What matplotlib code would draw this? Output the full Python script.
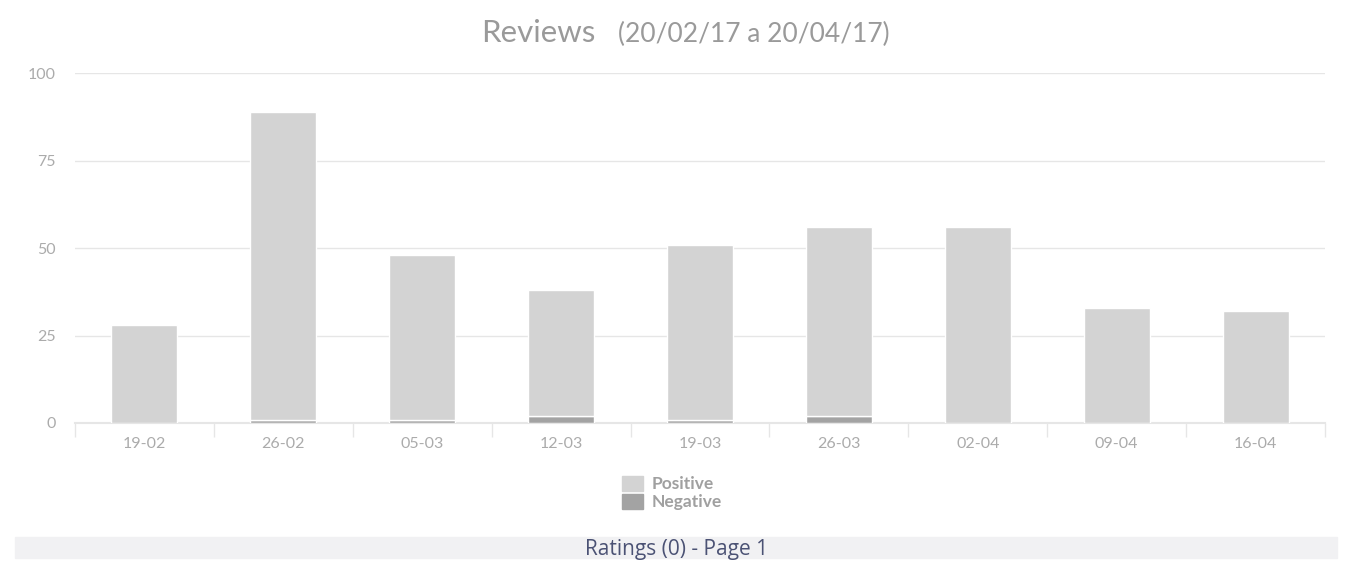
import numpy as np
import matplotlib.pyplot as plt
from matplotlib.patches import Rectangle

weeks = ['19-02', '26-02', '05-03', '12-03', '19-03', '26-03', '02-04', '09-04', '16-04']
negative = [0, 1, 1, 2, 1, 2, 0, 0, 0]
positive = [28, 88, 47, 36, 50, 54, 56, 33, 32]
y_ticks = [0, 25, 50, 75, 100]

pos_color = '#d3d3d3'
neg_color = '#a3a3a3'
grid_color = '#e6e6e6'
label_color = '#ababab'

plt.rcParams['font.family'] = ['Lato', 'DejaVu Sans']

fig = plt.figure(figsize=(13.51, 5.68), dpi=100)
ax = fig.add_axes([75 / 1351, 145 / 568, 1250 / 1351, 350 / 568])

x = np.arange(len(weeks))
ax.bar(x, negative, width=0.475, color=neg_color, edgecolor='white', linewidth=1, zorder=3)
ax.bar(x, positive, width=0.475, bottom=negative, color=pos_color,
       edgecolor='white', linewidth=1, zorder=3)

ax.set_xlim(-0.5, len(weeks) - 0.5)
ax.set_ylim(0, 100)
ax.set_yticks(y_ticks)
ax.yaxis.grid(True, color=grid_color, linewidth=1)
ax.set_axisbelow(True)

ax.set_xticks(x)
ax.set_xticklabels(weeks)
ax.set_xticks(np.arange(len(weeks) + 1) - 0.5, minor=True)
ax.tick_params(axis='x', which='major', length=0, pad=10, labelsize=11.5, labelcolor=label_color)
ax.tick_params(axis='x', which='minor', length=10, width=1, color=grid_color)
ax.tick_params(axis='y', length=0, pad=14, labelsize=11.5, labelcolor=label_color)

for side in ['top', 'right', 'left']:
    ax.spines[side].set_visible(False)
ax.spines['bottom'].set_color(grid_color)
ax.spines['bottom'].set_linewidth(1.5)

# title in two parts
fig.text(596 / 1351, 1 - 33 / 568, 'Reviews', ha='right', va='center',
         fontsize=22.5, color='#9a9a9a')
fig.text(618 / 1351, 1 - 34 / 568, '(20/02/17 a 20/04/17)', ha='left', va='center',
         fontsize=19, color='#9a9a9a')

# legend
leg = fig.legend(handles=[Rectangle((0, 0), 1, 1, color=pos_color),
                          Rectangle((0, 0), 1, 1, color=neg_color)],
                 labels=['Positive', 'Negative'], loc='center',
                 bbox_to_anchor=(672 / 1351, 1 - 493 / 568), frameon=False,
                 handlelength=1.2, handleheight=0.95, handletextpad=0.5,
                 labelspacing=0.1, prop={'size': 12.5, 'weight': 'bold'})
for t in leg.get_texts():
    t.set_color('#a0a0a0')

# footer band
fig.patches.append(Rectangle((15 / 1351, 1 - 558 / 568), 1322 / 1351, 21 / 568,
                             transform=fig.transFigure, color='#f1f1f3', zorder=0))
fig.text(677 / 1351, 1 - 549 / 568, 'Ratings (0) - Page 1', ha='center', va='center',
         fontsize=15, color='#4b5274', family=['Open Sans', 'DejaVu Sans'])

fig.savefig('out.png', dpi=100)
